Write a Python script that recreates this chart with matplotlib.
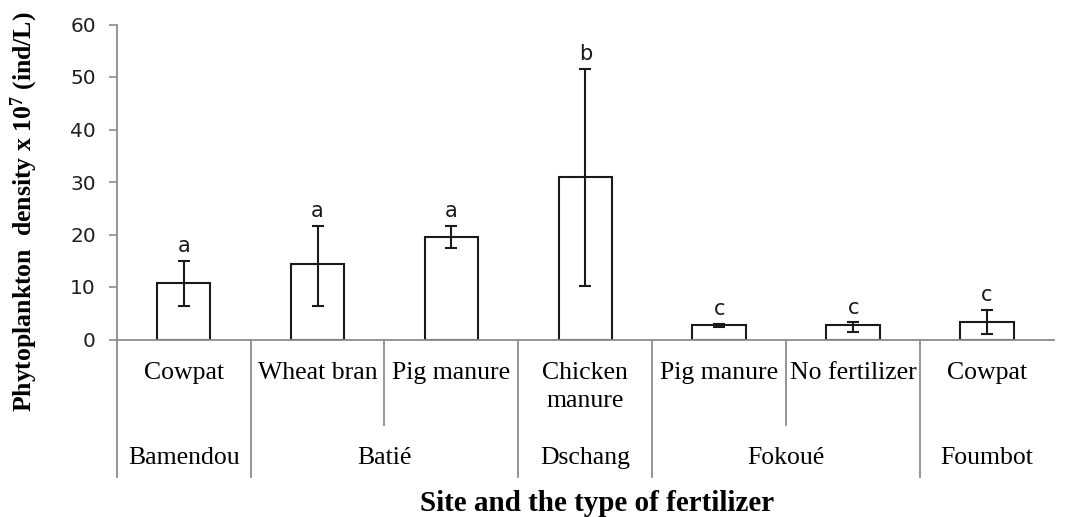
import matplotlib
matplotlib.use("Agg")
import matplotlib.pyplot as plt
import numpy as np

# ---- data ----
fertilizers = ['Cowpat', 'Wheat bran', 'Pig manure', 'Chicken\nmanure',
               'Pig manure', 'No fertilizer', 'Cowpat']
sites = ['Bamendou', 'Batié', 'Dschang', 'Fokoué', 'Foumbot']
site_counts = [1, 2, 1, 2, 1]
density = [10.8, 14.3, 19.5, 30.9, 2.7, 2.7, 3.4]
err_low = [4.5, 8.0, 2.1, 20.7, 0.3, 1.3, 2.3]
err_high = [4.2, 7.4, 2.2, 20.7, 0.3, 0.6, 2.3]
letters = ['a', 'a', 'a', 'b', 'c', 'c', 'c']
yticks = [0, 10, 20, 30, 40, 50, 60]

plt.rcParams['mathtext.fontset'] = 'custom'
plt.rcParams['mathtext.rm'] = 'Liberation Serif:bold'
plt.rcParams['mathtext.it'] = 'Liberation Serif:bold'
plt.rcParams['mathtext.bf'] = 'Liberation Serif:bold'

GRAY = '#8c8c8c'
BLK = '#1a1a1a'

fig = plt.figure(figsize=(10.69, 5.17), dpi=100)
ax = fig.add_axes([116.7 / 1069, 1 - 339.5 / 517, (1054 - 116.7) / 1069, 315 / 517])

x = np.arange(len(density))
ax.bar(x, density, width=0.4, color='white', edgecolor=BLK, linewidth=1.5, zorder=2)
ax.errorbar(x, density, yerr=[err_low, err_high], fmt='none', ecolor=BLK,
            elinewidth=1.5, capsize=4, capthick=1.5, zorder=3)

for xi, m, eh, lt in zip(x, density, err_high, letters):
    ax.annotate(lt, (xi, m + eh), xytext=(0, 6), textcoords='offset points',
                ha='center', va='baseline', fontsize=15, color=BLK,
                family='DejaVu Sans')

ax.set_xlim(-0.5, len(density) - 0.5)
ax.set_ylim(0, 60)
ax.set_yticks(yticks)
ax.set_yticklabels([str(t) for t in yticks], fontsize=14.5, color='#1f1f1f',
                   family='DejaVu Sans')
ax.tick_params(axis='y', direction='out', length=6, width=1.2, color=GRAY, pad=9)
ax.tick_params(axis='x', bottom=False, labelbottom=False)
for s in ['top', 'right']:
    ax.spines[s].set_visible(False)
for s in ['left', 'bottom']:
    ax.spines[s].set_color(GRAY)
    ax.spines[s].set_linewidth(1.3)

trans = ax.get_xaxis_transform()
long_y = -0.435
short_y = -0.27

# separators: site boundaries (long), within-site boundaries (short)
site_edges = np.concatenate([[0], np.cumsum(site_counts)]) - 0.5
for b in site_edges[:-1]:
    ax.plot([b, b], [0, long_y], transform=trans, color=GRAY, lw=1.3, clip_on=False)
for k in range(1, len(density)):
    b = k - 0.5
    if b not in site_edges:
        ax.plot([b, b], [0, short_y], transform=trans, color=GRAY, lw=1.3, clip_on=False)

for xi, lab in zip(x, fertilizers):
    ax.text(xi, -0.070, lab, transform=trans, ha='center', va='top',
            fontsize=18.5, family='Liberation Serif', linespacing=1.35, color='black')

for i, s in enumerate(sites):
    c = (site_edges[i] + site_edges[i + 1]) / 2
    ax.text(c, -0.342, s, transform=trans, ha='center', va='top',
            fontsize=18.5, family='Liberation Serif', color='black')

fig.text(597 / 1069, 1 - 511 / 517, 'Site and the type of fertilizer', ha='center',
         va='baseline', fontsize=21, fontweight='bold', family='Liberation Serif')
fig.text(24 / 1069, 1 - 212 / 517, r'Phytoplankton  density x 10$^{7}$ (ind/L)',
         rotation=90, ha='center', va='center', fontsize=18.5, fontweight='bold',
         family='Liberation Serif')

fig.savefig('out.png', dpi=100)
